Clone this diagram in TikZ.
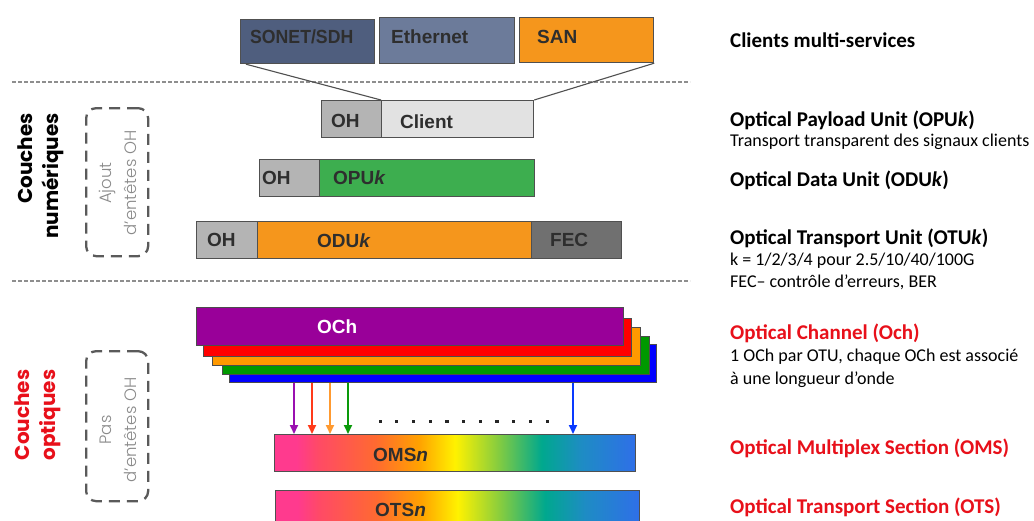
\documentclass[tikz,border=0pt]{standalone}
\usepackage{fontspec}
\setmainfont{Carlito}
\newfontfamily\arialf{Liberation Sans}
\newfontfamily\popf{Poppins}
\newfontfamily\poplight{Poppins Light}
\usetikzlibrary{arrows.meta}
\definecolor{sonetc}{HTML}{4F5E7E}
\definecolor{ethc}{HTML}{6C7B9A}
\definecolor{sanc}{HTML}{F5961C}
\definecolor{ohc}{HTML}{B4B4B4}
\definecolor{clic}{HTML}{E2E2E2}
\definecolor{opuc}{HTML}{3DAE4F}
\definecolor{fecc}{HTML}{707070}
\definecolor{bordc}{HTML}{505050}
\definecolor{lblc}{HTML}{2E2E2E}
\definecolor{ochp}{HTML}{990099}
\definecolor{ochr}{HTML}{FF0000}
\definecolor{ocho}{HTML}{FF9900}
\definecolor{ochg}{HTML}{009900}
\definecolor{ochb}{HTML}{0000FF}
\definecolor{arrp}{HTML}{9A10B0}
\definecolor{arrr}{HTML}{FF3A1A}
\definecolor{arro}{HTML}{FF9A30}
\definecolor{arrg}{HTML}{0A9A0A}
\definecolor{arrb}{HTML}{0A3AFF}
\definecolor{redtxt}{HTML}{E8101A}
\definecolor{sepc}{HTML}{8E8E8E}
\definecolor{dashc}{HTML}{5A5A5A}
\definecolor{innerc}{HTML}{8A8A8A}
\definecolor{rb0}{HTML}{FF3A8E}
\definecolor{rb1}{HTML}{FF4A66}
\definecolor{rb2}{HTML}{FF6A30}
\definecolor{rb3}{HTML}{FFA200}
\definecolor{rb4}{HTML}{FFF200}
\definecolor{rb5}{HTML}{84CC40}
\definecolor{rb6}{HTML}{00A88E}
\definecolor{rb7}{HTML}{1E8CC4}
\definecolor{rb8}{HTML}{2F6FE8}
\pgfdeclarehorizontalshading{rainbow}{100bp}{color(0bp)=(rb0); color(25bp)=(rb0); color(28bp)=(rb0); color(31bp)=(rb1); color(39bp)=(rb2); color(45bp)=(rb3); color(50bp)=(rb4); color(56bp)=(rb5); color(62bp)=(rb6); color(67.5bp)=(rb7); color(75bp)=(rb8); color(100bp)=(rb8)}
\tikzset{
  box/.style={draw=bordc, line width=1.2pt, inner sep=0pt, anchor=north west},
  ochbox/.style={draw=black!70, line width=0.8pt, inner sep=0pt, anchor=north west, minimum height=38pt},
  lbl/.style={font=\arialf\bfseries\fontsize{19}{20}\selectfont, text=lblc, inner sep=0pt, anchor=west},
  funnel/.style={draw=bordc, line width=1.1pt},
  sep/.style={draw=sepc, line width=1.6pt, dash pattern=on 4pt off 2pt},
  arr/.style={line width=1.8pt, -{Triangle[length=9pt,width=8pt]}},
  dashbox/.style={draw=dashc, line width=2.3pt, dash pattern=on 11pt off 7pt, rounded corners=10pt, inner sep=0pt, anchor=north west},
  sidetxt/.style={rotate=90, align=right, font=\popf\bfseries\fontsize{20}{26}\selectfont, inner sep=0pt},
  innertxt/.style={rotate=90, align=center, font=\poplight\fontsize{16.5}{25}\selectfont, text=innerc, inner sep=0pt},
  rtitle/.style={font=\bfseries\fontsize{21}{24}\selectfont, anchor=west, inner sep=0pt},
  rsub/.style={font=\fontsize{18}{20}\selectfont, anchor=west, inner sep=0pt},
}
\begin{document}
\begin{tikzpicture}[x=1pt,y=-1pt]
\clip (0,0) rectangle (1034,520);
\fill[white] (0,0) rectangle (1034,520);
% separators
\coordinate (d1a) at (12,82); \coordinate (d1b) at (690,82);
\coordinate (d2a) at (12,281); \coordinate (d2b) at (690,281);
\draw[sep] (d1a) -- (d1b);
\draw[sep] (d2a) -- (d2b);
% client boxes
\node[box, fill=sonetc, minimum width=134pt, minimum height=44pt] (son) at (240,19) {};
\node[box, fill=ethc, minimum width=135pt, minimum height=46pt] (eth) at (379,17) {};
\node[box, fill=sanc, minimum width=134pt, minimum height=45pt] (san) at (519,17) {};
\node[lbl] (tson) at (250,37) {\scalebox{0.93}[1]{SONET/SDH}};
\node[lbl] (teth) at (391,37) {Ethernet};
\node[lbl] (tsan) at (537,37) {SAN};
% client row
\node[box, fill=ohc, minimum width=60pt, minimum height=37pt] (oh1) at (321,100) {};
\node[box, fill=clic, minimum width=152pt, minimum height=37pt] (cli) at (381,100) {};
\node[lbl] (toh1) at (331,121) {OH};
\node[lbl] (tcli) at (400,122) {Client};
\draw[funnel] ([xshift=6pt]son.south west) -- (cli.north west);
\draw[funnel] (san.south east) -- (cli.north east);
% OPU row
\node[box, fill=ohc, minimum width=60pt, minimum height=37pt] (oh2) at (259,159) {};
\node[box, fill=opuc, minimum width=215pt, minimum height=37pt] (opu) at (319,159) {};
\node[lbl] (toh2) at (262,178) {OH};
\node[lbl] (topu) at (333,178) {OPU\textit{k}};
% ODU row
\node[box, fill=ohc, minimum width=61pt, minimum height=37pt] (oh3) at (196,221) {};
\node[box, fill=sanc, minimum width=274pt, minimum height=37pt] (odu) at (257,221) {};
\node[box, fill=fecc, minimum width=90pt, minimum height=37pt] (fec) at (531,221) {};
\node[lbl] (toh3) at (207,240) {OH};
\node[lbl] (todu) at (317,241) {ODU\textit{k}};
\node[lbl] (tfec) at (550,240) {FEC};
% OCh stack
\node[ochbox, fill=ochb, minimum width=427pt] (lb) at (229,344) {};
\node[ochbox, fill=ochg, minimum width=427pt] (lg) at (222,336) {};
\node[ochbox, fill=ocho, minimum width=428pt] (lo) at (212,327) {};
\node[ochbox, fill=ochr, minimum width=428pt] (lr) at (203,318) {};
\node[ochbox, fill=ochp, minimum width=427pt] (lp) at (196,307) {};
\node[lbl, text=white] (toch) at (317,327) {OCh};
% OMS / OTS
\node[box, shading=rainbow, minimum width=361pt, minimum height=37pt] (oms) at (274,434) {};
\node[box, shading=rainbow, minimum width=364pt, minimum height=37pt] (ots) at (275,490) {};
\node[lbl] (toms) at (373,455) {OMS\textit{n}};
\node[lbl] (tots) at (375,510) {OTS\textit{n}};
% arrows
\coordinate (a1) at (294,383); \coordinate (a2) at (312,383);
\coordinate (a3) at (330,383); \coordinate (a4) at (348,383);
\coordinate (a5) at (573,383);
\draw[arr, draw=arrp, fill=arrp] (a1) -- (a1 |- oms.north);
\draw[arr, draw=arrr, fill=arrr] (a2) -- (a2 |- oms.north);
\draw[arr, draw=arro, fill=arro] (a3) -- (a3 |- oms.north);
\draw[arr, draw=arrg, fill=arrg] (a4) -- (a4 |- oms.north);
\draw[arr, draw=arrb, fill=arrb] (a5) -- (a5 |- oms.north);
\foreach \i in {0,...,10} \fill[black!85] (378.5+16.7*\i,419.5) rectangle ++(3.2,3.2);
% left side labels
\node[sidetxt] (cnum) at (41,176) {Couches\\numériques};
\node[sidetxt, text=redtxt] (copt) at (38,415) {Couches\\optiques};
\node[dashbox, minimum width=62pt, minimum height=148pt] (db1) at (85,107) {};
\node[dashbox, minimum width=62pt, minimum height=150pt] (db2) at (85,350) {};
\node[innertxt] (ti1) at (118,183) {Ajout\\d’entêtes OH};
\node[innertxt] (ti2) at (118,430) {Pas\\d’entêtes OH};
% right side text
\node[rtitle] (r1) at (730,40) {Clients multi-services};
\node[rtitle] (r2) at (730,120) {Optical Payload Unit (OPU\textit{k})};
\node[rsub] (r2s) at (730,142) {Transport transparent des signaux clients};
\node[rtitle] (r3) at (730,180) {Optical Data Unit (ODU\textit{k})};
\node[rtitle] (r4) at (730,238) {Optical Transport Unit (OTU\textit{k})};
\node[rsub] (r4a) at (730,261) {k = 1/2/3/4 pour 2.5/10/40/100G};
\node[rsub] (r4b) at (730,282) {FEC– contrôle d’erreurs, BER};
\node[rtitle, text=redtxt] (r5) at (730,333) {Optical Channel (Och)};
\node[rsub] (r5a) at (730,357) {1 OCh par OTU, chaque OCh est associé};
\node[rsub] (r5b) at (730,380) {à une longueur d’onde};
\node[rtitle, text=redtxt] (r6) at (730,448) {Optical Multiplex Section (OMS)};
\node[rtitle, text=redtxt] (r7) at (730,507) {Optical Transport Section (OTS)};
\end{tikzpicture}
\end{document}
